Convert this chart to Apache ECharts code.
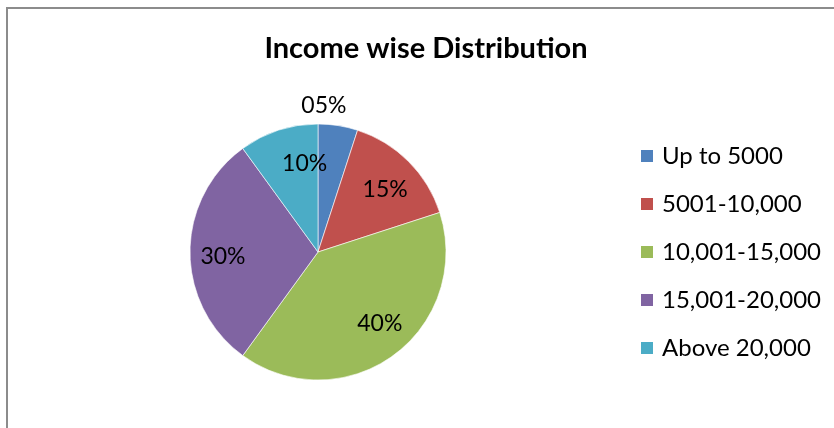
<!DOCTYPE html>
<html>
<head>
<meta charset="utf-8">
<script src="https://cdn.jsdelivr.net/npm/echarts@6/dist/echarts.min.js"></script>
<style>
  html, body { margin: 0; padding: 0; background: #fff; }
  #chart { width: 834px; height: 428px; position: relative; }
  /* the grey frame round the chart (no right/bottom edge visible) */
  .frame {
    position: absolute; left: 6px; top: 7px; right: 0; bottom: -10px;
    border-left: 2px solid #8c8c8c; border-top: 2px solid #8c8c8c;
    pointer-events: none;
  }
</style>
</head>
<body>
<div style="position:relative;width:834px;height:428px;">
  <div id="chart"></div>
  <div class="frame"></div>
</div>
<script>
  // categories and their shares (%)
  var categories = ['Up to 5000', '5001-10,000', '10,001-15,000', '15,001-20,000', 'Above 20,000'];
  var shares = [5, 15, 40, 30, 10];
  var colors = ['#4F81BD', '#C0504D', '#9BBB59', '#8064A2', '#4BACC6'];

  var FONT = 'Lato';

  // small nudges so the labels sit where Excel put them
  var labelNudge = [[-9, -53], [0, 5], [6, -5], [0, 5], [16, 2]];

  var pieData = categories.map(function (name, i) {
    return {name: name, value: shares[i], itemStyle: {color: colors[i]}};
  });

  // a transparent ring on top, only to place the labels further out than the middle
  var labelData = categories.map(function (name, i) {
    return {name: name, value: shares[i], label: {offset: labelNudge[i]}};
  });

  var chart = echarts.init(document.getElementById('chart'));
  chart.setOption({
    animation: false,
    title: {
      text: 'Income wise Distribution',
      left: 426,
      top: 34,
      padding: 0,
      textAlign: 'center',
      textStyle: {fontFamily: FONT, fontWeight: 'bold', fontSize: 29, color: '#000'}
    },
    legend: {
      orient: 'vertical',
      left: 634,
      top: 139,
      data: categories,
      icon: 'rect',
      itemWidth: 14,
      itemHeight: 14,
      itemGap: 24,
      textStyle: {fontFamily: FONT, fontSize: 24, color: '#000', lineHeight: 24, padding: [0, 0, 0, 3]}
    },
    series: [
      {
        name: 'Income',
        type: 'pie',
        center: [318, 252],
        radius: [0, 128],
        startAngle: 90,
        clockwise: true,
        label: {show: false},
        labelLine: {show: false},
        itemStyle: {borderColor: '#fff', borderWidth: 0.6},
        data: pieData
      },
      {
        name: 'labels',
        type: 'pie',
        center: [318, 252],
        radius: [56, 128],
        startAngle: 90,
        clockwise: true,
        silent: true,
        legendHoverLink: false,
        itemStyle: {color: 'transparent'},
        label: {
          show: true,
          position: 'inside',
          fontFamily: FONT,
          fontSize: 23,
          color: '#000',
          formatter: function (p) {
            return (p.value < 10 ? '0' : '') + p.value + '%';
          }
        },
        labelLine: {show: false},
        data: labelData
      }
    ]
  });
</script>
</body>
</html>
